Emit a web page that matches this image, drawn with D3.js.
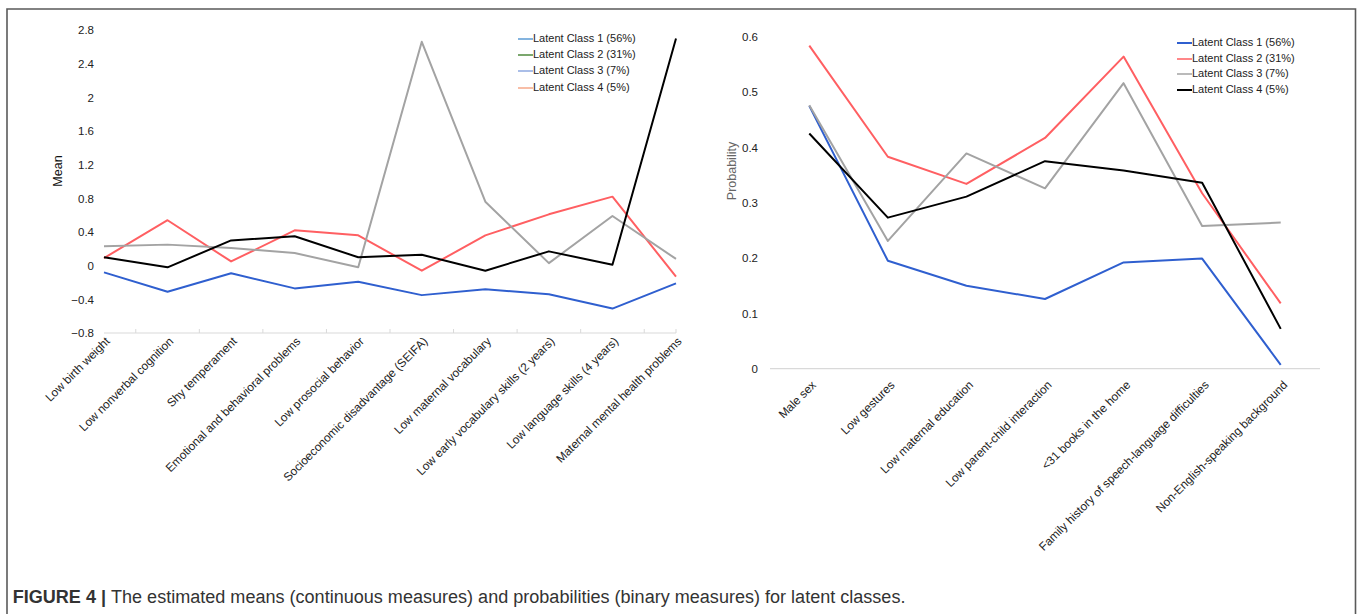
<!DOCTYPE html>
<html>
<head>
<meta charset="utf-8">
<script src="https://cdn.jsdelivr.net/npm/d3@7"></script>
<style>
  html, body { margin: 0; padding: 0; background: #fff; }
  svg { display: block; font-family: "Liberation Sans", Arial, sans-serif; }
</style>
</head>
<body>
<svg id="chart" width="1360" height="614"></svg>
<script>
// ---------- DATA ----------
const leftCategories = [
  "Low birth weight", "Low nonverbal cognition", "Shy temperament",
  "Emotional and behavioral problems", "Low prosocial behavior",
  "Socioeconomic disadvantage (SEIFA)", "Low maternal vocabulary",
  "Low early vocabulary skills (2 years)", "Low language skills (4 years)",
  "Maternal mental health problems"
];
const class1Means = [-0.08, -0.31, -0.09, -0.27, -0.19, -0.35, -0.28, -0.34, -0.51, -0.21];
const class2Means = [0.09, 0.54, 0.05, 0.42, 0.36, -0.06, 0.36, 0.61, 0.82, -0.13];
const class3Means = [0.23, 0.25, 0.21, 0.15, -0.02, 2.66, 0.76, 0.03, 0.59, 0.08];
const class4Means = [0.10, -0.02, 0.30, 0.35, 0.10, 0.13, -0.06, 0.17, 0.01, 2.70];
const leftTicks = [-0.8, -0.4, 0, 0.4, 0.8, 1.2, 1.6, 2, 2.4, 2.8];

const rightCategories = [
  "Male sex", "Low gestures", "Low maternal education",
  "Low parent-child interaction", "<31 books in the home",
  "Family history of speech-language difficulties", "Non-English-speaking background"
];
const class1Prob = [0.475, 0.195, 0.150, 0.126, 0.192, 0.199, 0.007];
const class2Prob = [0.584, 0.383, 0.334, 0.417, 0.564, 0.317, 0.118];
const class3Prob = [0.476, 0.231, 0.389, 0.326, 0.516, 0.258, 0.264];
const class4Prob = [0.425, 0.273, 0.311, 0.375, 0.358, 0.336, 0.072];
const rightTicks = [0, 0.1, 0.2, 0.3, 0.4, 0.5, 0.6];

const seriesNames = ["Latent Class 1 (56%)", "Latent Class 2 (31%)", "Latent Class 3 (7%)", "Latent Class 4 (5%)"];
const lineColors = ["#2f5fcf", "#ff5f62", "#a3a3a3", "#000000"];
const leftLegendColors = ["#5b9bd5", "#4f8a3c", "#8ea9e0", "#f6a98a"];

const captionBold = "FIGURE 4 | ";
const captionText = "The estimated means (continuous measures) and probabilities (binary measures) for latent classes.";

// ---------- DRAW ----------
const svg = d3.select("#chart");

// frame
svg.append("path")
  .attr("d", "M7,614 L7,9 L1355.5,9 L1355.5,614")
  .attr("fill", "none").attr("stroke", "#5a5a5a").attr("stroke-width", 1.6);

function drawPanel(opts) {
  const g = svg.append("g");
  const x = d3.scalePoint().domain(opts.categories).range(opts.xRange).padding(opts.padding);
  const y = d3.scaleLinear().domain(opts.yDomain).range(opts.yRange);

  // baseline axis
  g.append("line")
    .attr("x1", opts.xRange[0]).attr("x2", opts.xRange[1])
    .attr("y1", y(opts.yDomain[0])).attr("y2", y(opts.yDomain[0]))
    .attr("stroke", "#d9d9d9").attr("stroke-width", 1.2);

  if (opts.midTicks) {
    const pos = opts.categories.map(c => x(c));
    const tickX = [];
    for (let i = 0; i < pos.length - 1; i++) tickX.push((pos[i] + pos[i + 1]) / 2);
    tickX.push(opts.xRange[1]);
    g.selectAll(".mt").data(tickX).enter().append("line")
      .attr("x1", d => d).attr("x2", d => d)
      .attr("y1", y(opts.yDomain[0])).attr("y2", y(opts.yDomain[0]) - 4)
      .attr("stroke", "#d9d9d9").attr("stroke-width", 1);
  }

  // y axis labels
  const yAxis = d3.axisLeft(y).tickValues(opts.yTicks).tickSize(0).tickPadding(0)
    .tickFormat(d3.format("~g"));
  const ya = g.append("g").attr("transform", `translate(${opts.yLabelX},0)`).call(yAxis);
  ya.select(".domain").remove();
  ya.selectAll("text").attr("font-size", 11.5).attr("fill", "#222")
    .attr("font-family", "Liberation Sans, Arial, sans-serif");

  // x axis labels
  const xAxis = d3.axisBottom(x).tickSize(0).tickPadding(0);
  const xa = g.append("g").attr("transform", `translate(0,${y(opts.yDomain[0])})`).call(xAxis);
  xa.select(".domain").remove();
  xa.selectAll("text")
    .attr("font-size", 11.8).attr("fill", "#222")
    .attr("font-family", "Liberation Sans, Arial, sans-serif")
    .attr("text-anchor", "end")
    .attr("dy", 0).attr("y", 0)
    .attr("transform", `translate(${opts.labelDx},${opts.labelDy}) rotate(-45)`);

  // axis title
  g.append("text")
    .attr("transform", `translate(${opts.titleX},${opts.titleY}) rotate(-90)`)
    .attr("text-anchor", "middle").attr("dominant-baseline", "middle")
    .attr("font-size", 12.5).attr("fill", opts.titleColor)
    .text(opts.title);

  // lines
  const line = d3.line().x((d, i) => x(opts.categories[i])).y(d => y(d));
  opts.series.forEach((s, i) => {
    g.append("path").datum(s)
      .attr("d", line).attr("fill", "none")
      .attr("stroke", lineColors[i]).attr("stroke-width", 2)
      .attr("stroke-linejoin", "round");
  });

  // legend
  const lg = g.append("g");
  seriesNames.forEach((name, i) => {
    const ly = opts.legendY[i];
    lg.append("line")
      .attr("x1", opts.legendX).attr("x2", opts.legendX + 15)
      .attr("y1", ly).attr("y2", ly)
      .attr("stroke", opts.legendColors[i]).attr("stroke-width", opts.legendWidth[i]);
    lg.append("text")
      .attr("x", opts.legendX + 15).attr("y", ly)
      .attr("dominant-baseline", "middle")
      .attr("font-size", 11).attr("fill", "#222")
      .text(name);
  });
}

drawPanel({
  categories: leftCategories, xRange: [104, 676], padding: 0,
  yDomain: [-0.8, 2.8], yRange: [333, 30], yTicks: leftTicks, yLabelX: 94,
  series: [class1Means, class2Means, class3Means, class4Means],
  midTicks: true, labelDx: 6, labelDy: 9,
  title: "Mean", titleX: 59, titleY: 171, titleColor: "#111",
  legendX: 518, legendY: [39, 55, 71, 88], legendColors: leftLegendColors,
  legendWidth: [1.5, 1.5, 1.5, 1.5]
});

drawPanel({
  categories: rightCategories, xRange: [770, 1320], padding: 0.5,
  yDomain: [0, 0.6], yRange: [368.7, 36.7], yTicks: rightTicks, yLabelX: 758,
  series: [class1Prob, class2Prob, class3Prob, class4Prob],
  midTicks: false, labelDx: 7, labelDy: 17,
  title: "Probability", titleX: 733, titleY: 171, titleColor: "#666",
  legendX: 1177, legendY: [43, 59, 74, 90], legendColors: lineColors,
  legendWidth: [2, 1.5, 1.5, 2]
});

// caption
const cap = svg.append("text").attr("x", 12.7).attr("y", 603)
  .attr("font-size", 17).attr("fill", "#333")
  .attr("font-family", "Liberation Sans, Arial, sans-serif");
cap.append("tspan").attr("font-weight", "bold").text(captionBold);
cap.append("tspan").text(captionText);
const w = cap.node().getComputedTextLength();
cap.attr("font-size", 17 * 893 / w);
</script>
</body>
</html>
